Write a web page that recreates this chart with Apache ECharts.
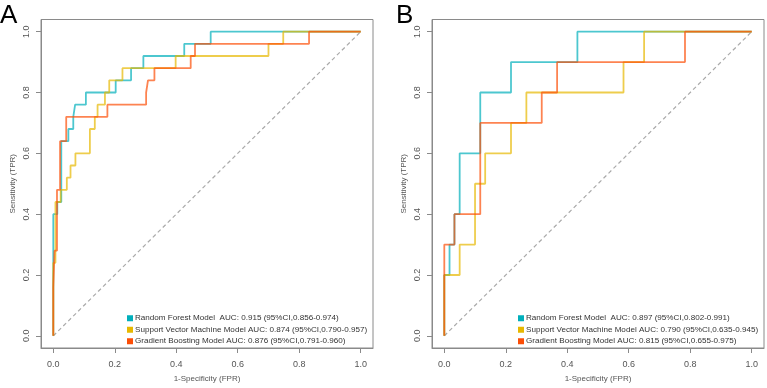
<!DOCTYPE html>
<html>
<head>
<meta charset="utf-8">
<script src="https://cdn.jsdelivr.net/npm/echarts@6/dist/echarts.min.js"></script>
<style>html,body{margin:0;padding:0;background:#fff;}#c{width:767px;height:388px;}</style>
</head>
<body>
<div id="c"></div>
<script>
// ---- data ----
const tickValues = [0, 0.2, 0.4, 0.6, 0.8, 1.0];
const tickLabels = ['0.0', '0.2', '0.4', '0.6', '0.8', '1.0'];
const modelNames = ['Random Forest Model', 'Support Vector Machine Model', 'Gradient Boosting Model'];
const aucA = ['AUC: 0.915 (95%CI,0.856-0.974)', 'AUC: 0.874 (95%CI,0.790-0.957)', 'AUC: 0.876 (95%CI,0.791-0.960)'];
const aucB = ['AUC: 0.897 (95%CI,0.802-0.991)', 'AUC: 0.790 (95%CI,0.635-0.945)', 'AUC: 0.815 (95%CI,0.655-0.975)'];

// Panel A ROC corners
const rfA_fpr  = [0, 0, 0.013, 0.013, 0.026, 0.026, 0.049, 0.049, 0.065, 0.065, 0.071, 0.071, 0.106, 0.106, 0.203, 0.203, 0.253, 0.253, 0.293, 0.293, 0.426, 0.426, 0.512, 0.512, 1];
const rfA_tpr  = [0, 0.40, 0.40, 0.44, 0.44, 0.64, 0.64, 0.68, 0.68, 0.72, 0.72, 0.76, 0.76, 0.80, 0.80, 0.84, 0.84, 0.88, 0.88, 0.92, 0.92, 0.96, 0.96, 1.0, 1.0];
const svmA_fpr = [0, 0, 0.007, 0.007, 0.024, 0.024, 0.044, 0.044, 0.056, 0.056, 0.072, 0.072, 0.119, 0.119, 0.135, 0.135, 0.144, 0.144, 0.168, 0.168, 0.182, 0.182, 0.225, 0.225, 0.398, 0.398, 0.700, 0.700, 0.748, 0.748, 1];
const svmA_tpr = [0, 0.24, 0.24, 0.44, 0.44, 0.48, 0.48, 0.52, 0.52, 0.56, 0.56, 0.60, 0.60, 0.68, 0.68, 0.72, 0.72, 0.76, 0.76, 0.80, 0.80, 0.84, 0.84, 0.88, 0.88, 0.92, 0.92, 0.96, 0.96, 1.0, 1.0];
const gbA_fpr  = [0, 0, 0.004, 0.004, 0.012, 0.012, 0.022, 0.022, 0.042, 0.042, 0.176, 0.176, 0.302, 0.302, 0.308, 0.308, 0.329, 0.329, 0.447, 0.447, 0.461, 0.461, 0.832, 0.832, 1];
const gbA_tpr  = [0, 0.16, 0.16, 0.28, 0.28, 0.48, 0.48, 0.64, 0.64, 0.72, 0.72, 0.76, 0.76, 0.80, 0.80, 0.84, 0.84, 0.88, 0.88, 0.92, 0.92, 0.96, 0.96, 1.0, 1.0];

// Panel B ROC corners
const rfB_fpr  = [0, 0, 0.017, 0.017, 0.033, 0.033, 0.050, 0.050, 0.117, 0.117, 0.217, 0.217, 0.433, 0.433, 1];
const rfB_tpr  = [0, 0.2, 0.2, 0.3, 0.3, 0.4, 0.4, 0.6, 0.6, 0.8, 0.8, 0.9, 0.9, 1.0, 1.0];
const svmB_fpr = [0, 0, 0.050, 0.050, 0.100, 0.100, 0.133, 0.133, 0.217, 0.217, 0.267, 0.267, 0.583, 0.583, 0.650, 0.650, 1];
const svmB_tpr = [0, 0.2, 0.2, 0.3, 0.3, 0.5, 0.5, 0.6, 0.6, 0.7, 0.7, 0.8, 0.8, 0.9, 0.9, 1.0, 1.0];
const gbB_fpr  = [0, 0, 0.033, 0.033, 0.117, 0.117, 0.317, 0.317, 0.367, 0.367, 0.783, 0.783, 1];
const gbB_tpr  = [0, 0.3, 0.3, 0.4, 0.4, 0.7, 0.7, 0.8, 0.8, 0.9, 0.9, 1.0, 1.0];

const diagX = [0, 1];
const diagY = [0, 1];

// ---- style ----
const colors = ['#00AFBB', '#E7B800', '#FC4E07'];
const FONT = 'Liberation Sans, Arial, Helvetica, sans-serif';
const zip = (a, b) => a.map((v, i) => [v, b[i]]);

const panels = [
  { left: 41, curves: [[rfA_fpr, rfA_tpr], [svmA_fpr, svmA_tpr], [gbA_fpr, gbA_tpr]], auc: aucA },
  { left: 432, curves: [[rfB_fpr, rfB_tpr], [svmB_fpr, svmB_tpr], [gbB_fpr, gbB_tpr]], auc: aucB }
];
const GRID_TOP = 19.5, GRID_SIZE = 332;

const grid = [], xAxis = [], yAxis = [], series = [], legend = [];
panels.forEach((p, gi) => {
  grid.push({ left: p.left, top: GRID_TOP, width: GRID_SIZE, height: GRID_SIZE, show: true, borderColor: '#8a8a8a', borderWidth: 1, backgroundColor: 'transparent' });
  const common = {
    gridIndex: gi, type: 'value', min: -0.04, max: 1.04,
    splitLine: { show: false },
    axisLine: { show: true, onZero: false, lineStyle: { color: '#8a8a8a', width: 1 } },
    axisTick: { show: true, length: 5, lineStyle: { color: '#8a8a8a' }, customValues: tickValues },
    axisLabel: { customValues: tickValues, color: '#555', fontSize: 9, fontFamily: FONT, margin: 10,
                 formatter: v => tickLabels[tickValues.findIndex(t => Math.abs(t - v) < 1e-9)] },
    nameLocation: 'middle',
    nameTextStyle: { color: '#555', fontSize: 8, fontFamily: FONT }
  };
  xAxis.push(Object.assign({}, common, {
    name: '1-Specificity (FPR)', nameGap: 27,
    axisLabel: Object.assign({}, common.axisLabel, { margin: 12 })
  }));
  yAxis.push(Object.assign({}, common, {
    name: 'Sensitivity (TPR)', nameGap: 24,
    axisLabel: Object.assign({}, common.axisLabel, { rotate: 90 })
  }));
  series.push({
    type: 'line', xAxisIndex: gi, yAxisIndex: gi, data: zip(diagX, diagY), symbol: 'none', silent: true,
    lineStyle: { color: '#aaaaaa', width: 1.2, type: [4, 3] }, z: 1
  });
  const names = [];
  p.curves.forEach((c, si) => {
    const nm = modelNames[si] + (si === 0 ? '  ' : ' ') + p.auc[si];
    names.push({ name: nm, itemStyle: { color: colors[si], opacity: 1 } });
    series.push({
      name: nm, type: 'line', xAxisIndex: gi, yAxisIndex: gi, data: zip(c[0], c[1]),
      symbol: 'none', color: colors[si], lineStyle: { color: colors[si], width: 1.8, opacity: 0.7 }, z: 2 + si
    });
  });
  legend.push({
    data: names, orient: 'vertical', left: p.left + 86, top: 312.5, padding: 0, itemWidth: 6, itemHeight: 6, itemGap: 0,
    icon: 'rect', selectedMode: false,
    textStyle: { fontSize: 8.1, fontFamily: FONT, color: '#333', lineHeight: 11.5, padding: [0, 0, 0, -3] }
  });
});

const chart = echarts.init(document.getElementById('c'), null, { renderer: 'canvas' });
chart.setOption({
  animation: false,
  backgroundColor: '#fff',
  grid, xAxis, yAxis, series, legend,
  graphic: [
    { type: 'text', left: 0, top: 3, style: { text: 'A', font: '26px ' + FONT, fill: '#000' } },
    { type: 'text', left: 396, top: 3, style: { text: 'B', font: '26px ' + FONT, fill: '#000' } }
  ]
});
</script>
</body>
</html>
